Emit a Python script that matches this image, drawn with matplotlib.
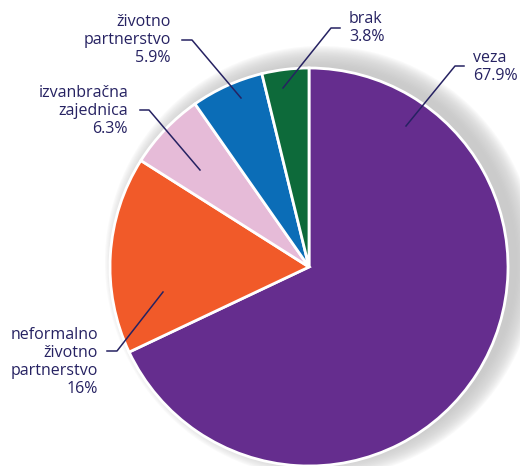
import numpy as np
import matplotlib.pyplot as plt
from matplotlib.patches import Circle

# data
labels = ['veza', 'neformalno\nživotno\npartnerstvo', 'izvanbračna\nzajednica',
          'životno\npartnerstvo', 'brak']
values = [67.9, 16.0, 6.3, 5.9, 3.8]
pct_text = ['67.9%', '16%', '6.3%', '5.9%', '3.8%']
colors = ['#652d8e', '#f15a29', '#e6bbd8', '#0b6db7', '#0d6a3a']

W, H = 520, 466
txt_col = '#262262'
plt.rcParams['font.family'] = ['Open Sans', 'DejaVu Sans']


def px(x, y):
    # picture pixels -> axes data coords
    return (x, H - y)


fig = plt.figure(figsize=(W / 100, H / 100), dpi=100)
ax = fig.add_axes([0, 0, 1, 1])
ax.set_xlim(0, W)
ax.set_ylim(0, H)
ax.set_aspect('equal')
ax.axis('off')

cx, cy = px(309, 267)
R = 199

# soft shadow behind the pie
for i in range(18):
    r = 216 - i * 1.2
    ax.add_patch(Circle(px(321, 262), r, color='#c4c4c4', alpha=0.09, lw=0, zorder=0))

ax.pie(values, colors=colors, startangle=90, counterclock=False,
       center=(cx, cy), radius=R, frame=True,
       wedgeprops=dict(edgecolor='white', linewidth=2))
ax.set_xlim(0, W)
ax.set_ylim(0, H)
ax.axis('off')

# label leader lines: anchor in slice, elbow, end of horizontal tick
leaders = [
    [(406, 126), (455, 66), (464, 66)],
    [(163, 292), (117, 351), (107, 351)],
    [(200, 170), (149, 110), (140, 110)],
    [(241, 98), (192, 40), (182, 40)],
    [(283, 88), (331, 28), (340, 28)],
]
text_pos = [(473, 67, 'left'), (98, 362, 'right'), (128, 111, 'right'),
            (171, 40, 'right'), (349, 28, 'left')]

for i in range(len(values)):
    pts = [px(*p) for p in leaders[i]]
    xs = [p[0] for p in pts]
    ys = [p[1] for p in pts]
    ax.plot(xs, ys, color=txt_col, lw=1.1, zorder=5)
    tx, ty, ha = text_pos[i]
    ax.text(*px(tx, ty), labels[i] + '\n' + pct_text[i], ha=ha, va='center',
            color=txt_col, fontsize=11.5, linespacing=1.18, zorder=6)

fig.savefig('out.png', dpi=100)
